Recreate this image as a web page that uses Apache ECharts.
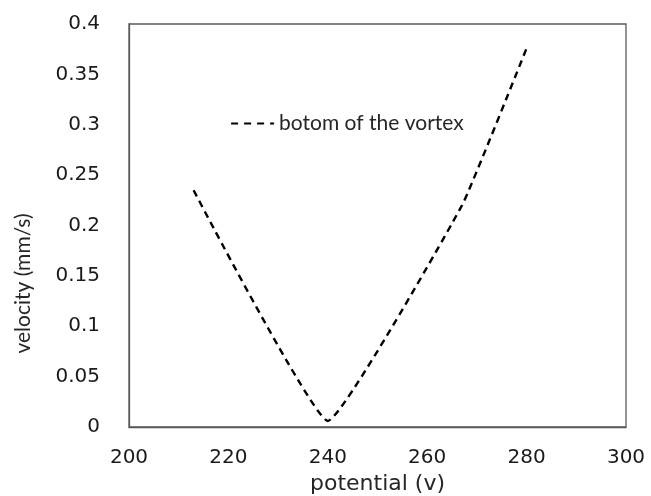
<!DOCTYPE html>
<html>
<head>
<meta charset="utf-8">
<script src="https://cdn.jsdelivr.net/npm/echarts@6/dist/echarts.min.js"></script>
<style>
html,body{margin:0;padding:0;background:#fff;}
#chart{width:651px;height:496px;}
</style>
</head>
<body>
<div id="chart"></div>
<script>
var seriesName = 'botom of the vortex';
var potential = [213, 240, 267, 280];
var velocity = [0.235, 0.006, 0.22, 0.376];
var xTicks = [200, 220, 240, 260, 280, 300];
var yTicks = [0, 0.05, 0.1, 0.15, 0.2, 0.25, 0.3, 0.35, 0.4];

var chart = echarts.init(document.getElementById('chart'), null, {renderer: 'canvas'});
var points = potential.map(function (x, i) { return [x, velocity[i]]; });

chart.setOption({
  animation: false,
  backgroundColor: '#ffffff',
  grid: {
    left: 129, top: 24, right: 25, bottom: 69,
    containLabel: false, outerBoundsMode: 'none',
    show: true, borderColor: '#595959', borderWidth: 1.3
  },
  legend: {
    left: 230, top: 113, padding: 0,
    itemWidth: 43, itemHeight: 18,
    itemStyle: {opacity: 0},
    lineStyle: {width: 2.2, type: [7, 6]},
    textStyle: {fontFamily: 'Lato', fontSize: 21, color: '#262626'},
    data: [seriesName]
  },
  xAxis: {
    type: 'value',
    min: xTicks[0], max: xTicks[xTicks.length - 1], interval: 20,
    name: 'potential (v)',
    nameLocation: 'middle', nameGap: 46,
    nameTextStyle: {fontFamily: 'DejaVu Sans', fontSize: 22, color: '#262626'},
    axisLine: {show: true, lineStyle: {color: '#595959', width: 1.3}},
    axisTick: {show: false},
    splitLine: {show: false},
    axisLabel: {margin: 21, fontFamily: 'DejaVu Sans', fontSize: 20, color: '#1a1a1a'}
  },
  yAxis: {
    type: 'value',
    min: yTicks[0], max: yTicks[yTicks.length - 1], interval: 0.05,
    name: 'velocity (mm/s)',
    nameLocation: 'middle', nameGap: 95, nameRotate: 90,
    nameTextStyle: {fontFamily: 'Lato', fontSize: 21, color: '#262626', padding: [0, 116, 0, 0]},
    axisLine: {show: true, lineStyle: {color: '#595959', width: 1.3}},
    axisTick: {show: false},
    splitLine: {show: false},
    axisLabel: {margin: 29, fontFamily: 'DejaVu Sans', fontSize: 20, color: '#1a1a1a'}
  },
  series: [{
    name: seriesName,
    type: 'line',
    data: points,
    smooth: 0.1,
    symbol: 'none',
    lineStyle: {color: '#000000', width: 2.4, type: [7, 5]},
    itemStyle: {color: '#000000'}
  }]
});
</script>
</body>
</html>
